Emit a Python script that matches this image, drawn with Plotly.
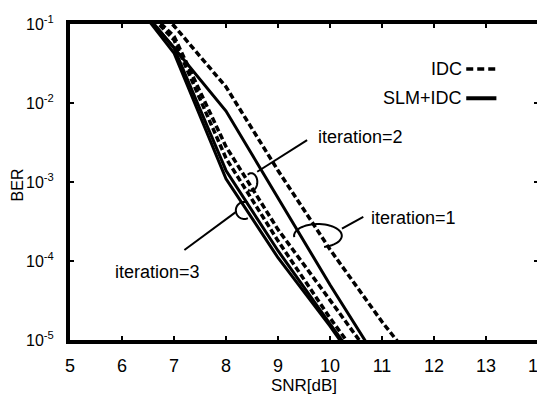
import numpy as np
import plotly.graph_objects as go

# ---------------- data ----------------
snr = [6, 7, 8, 9, 10, 11, 12]
idc_it1 = [3.0e-1, 9.5e-2, 1.6e-2, 1.4e-3, 1.4e-4, 1.7e-5, 2.5e-6]
idc_it2 = [3.0e-1, 7.0e-2, 2.8e-3, 2.5e-4, 3.2e-5, 4.0e-6, 5.0e-7]
idc_it3 = [3.0e-1, 6.3e-2, 2.0e-3, 1.8e-4, 1.9e-5, 2.5e-6, 3.0e-7]
slm_it1 = [3.0e-1, 5.0e-2, 7.9e-3, 6.3e-4, 5.0e-5, 4.5e-6, 4.0e-7]
slm_it2 = [3.0e-1, 5.0e-2, 1.4e-3, 1.35e-4, 1.6e-5, 2.0e-6, 2.0e-7]
slm_it3 = [3.0e-1, 4.3e-2, 1.1e-3, 1.1e-4, 1.5e-5, 1.8e-6, 2.0e-7]

x_ticks = [5, 6, 7, 8, 9, 10, 11, 12, 13, 14]
y_ticks = [1e-5, 1e-4, 1e-3, 1e-2, 1e-1]
y_ticktext = ["10<sup>-5</sup>", "10<sup>-4</sup>", "10<sup>-3</sup>",
              "10<sup>-2</sup>", "10<sup>-1</sup>"]
legend_names = ["IDC", "SLM+IDC"]
iter_labels = ["iteration=1", "iteration=2", "iteration=3"]

XR = [5, 14]
YR = [-5, -1]
FONT = "Liberation Sans, Arial, Helvetica, sans-serif"

def px(x):
    return (x - XR[0]) / (XR[1] - XR[0])

def py(ylog):
    return (ylog - YR[0]) / (YR[1] - YR[0])

fig = go.Figure()
DASH = "6px,3px"
for ys in [idc_it1, idc_it2, idc_it3]:
    fig.add_trace(go.Scatter(x=snr, y=ys, mode="lines", name=legend_names[0],
                             line=dict(color="black", width=3.5, dash=DASH)))
for ys in [slm_it1, slm_it2, slm_it3]:
    fig.add_trace(go.Scatter(x=snr, y=ys, mode="lines", name=legend_names[1],
                             line=dict(color="black", width=3)))

shapes = []
annotations = []

def arc_path(cx, cy, rx, ry, t0, t1, n=40):
    ts = np.radians(np.linspace(t0, t1, n))
    xs = px(cx) + rx * np.cos(ts)
    ys = py(cy) + ry * np.sin(ts)
    return "M " + " L ".join(f"{a:.5f},{b:.5f}" for a, b in zip(xs, ys))

# (arc centre snr, arc centre log-ber, rx, ry [paper], t0, t1, leader start, leader end, text pos)
iter_specs = [
    (9.768, -3.68, 0.051, 0.037, 187, -75, (10.23, -3.59), (10.64, -3.44), (10.75, -3.45)),
    (8.485, -3.00, 0.013, 0.028, 125, -120, (8.60, -2.87), (9.56, -2.47), (9.73, -2.43)),
    (8.351, -3.36, 0.018, 0.027, 65, 295, (8.18, -3.385), (7.20, -3.86), (5.82, -4.14)),
]
for (cx, cy, rx, ry, t0, t1, l0, l1, tp), lab in zip(iter_specs, iter_labels):
    shapes.append(dict(type="path", xref="paper", yref="paper",
                       path=arc_path(cx, cy, rx, ry, t0, t1),
                       line=dict(color="black", width=2)))
    shapes.append(dict(type="line", xref="paper", yref="paper",
                       x0=px(l0[0]), y0=py(l0[1]), x1=px(l1[0]), y1=py(l1[1]),
                       line=dict(color="black", width=2)))
    annotations.append(dict(text=lab, xref="paper", yref="paper",
                            x=px(tp[0]), y=py(tp[1]), xanchor="left",
                            yanchor="middle", showarrow=False,
                            font=dict(size=18, family=FONT, color="black")))

# manual legend (symbol drawn to the right of the text)
leg_rows = [(-1.57, "7px,4px", 3.5), (-1.94, "solid", 4)]
for name, (yl, dash, w) in zip(legend_names, leg_rows):
    shapes.append(dict(type="line", xref="paper", yref="paper",
                       x0=px(12.62), x1=px(13.2), y0=py(yl), y1=py(yl),
                       line=dict(color="black", width=w, dash=dash)))
    annotations.append(dict(text=name, xref="paper", yref="paper",
                            x=px(12.57), y=py(yl), xanchor="right",
                            yanchor="middle", showarrow=False,
                            font=dict(size=18, family=FONT, color="black")))

# y-axis title as rotated text
annotations.append(dict(text="BER", xref="paper", yref="paper",
                        x=(17 - 70) / 470, y=0.49, xanchor="center",
                        yanchor="middle", textangle=-90, showarrow=False,
                        font=dict(size=16, family=FONT, color="black")))

# the page body adds an 8px offset; compensate in the margins
fig.update_layout(
    width=545, height=397,
    margin=dict(l=62, r=13, t=5, b=65),
    plot_bgcolor="white", paper_bgcolor="white",
    showlegend=False,
    font=dict(family=FONT, size=18, color="black"),
    shapes=shapes, annotations=annotations,
)
fig.update_xaxes(range=XR, tickvals=x_ticks, ticktext=[str(v) for v in x_ticks],
                 ticks="inside", ticklen=4, tickwidth=2, tickcolor="black",
                 showline=True, linewidth=4, linecolor="black", mirror="allticks",
                 showgrid=False, zeroline=False, ticklabelstandoff=6,
                 ticklabeloverflow="allow",
                 tickfont=dict(size=18),
                 title=dict(text="SNR[dB]", standoff=5, font=dict(size=17)))
fig.update_yaxes(type="log", range=YR, tickvals=y_ticks, ticktext=y_ticktext,
                 ticks="inside", ticklen=4, tickwidth=2, tickcolor="black",
                 showline=True, linewidth=4, linecolor="black", mirror="allticks",
                 showgrid=False, zeroline=False, ticklabelstandoff=9,
                 ticklabeloverflow="allow",
                 tickfont=dict(size=16))

fig.write_html("out.html")
